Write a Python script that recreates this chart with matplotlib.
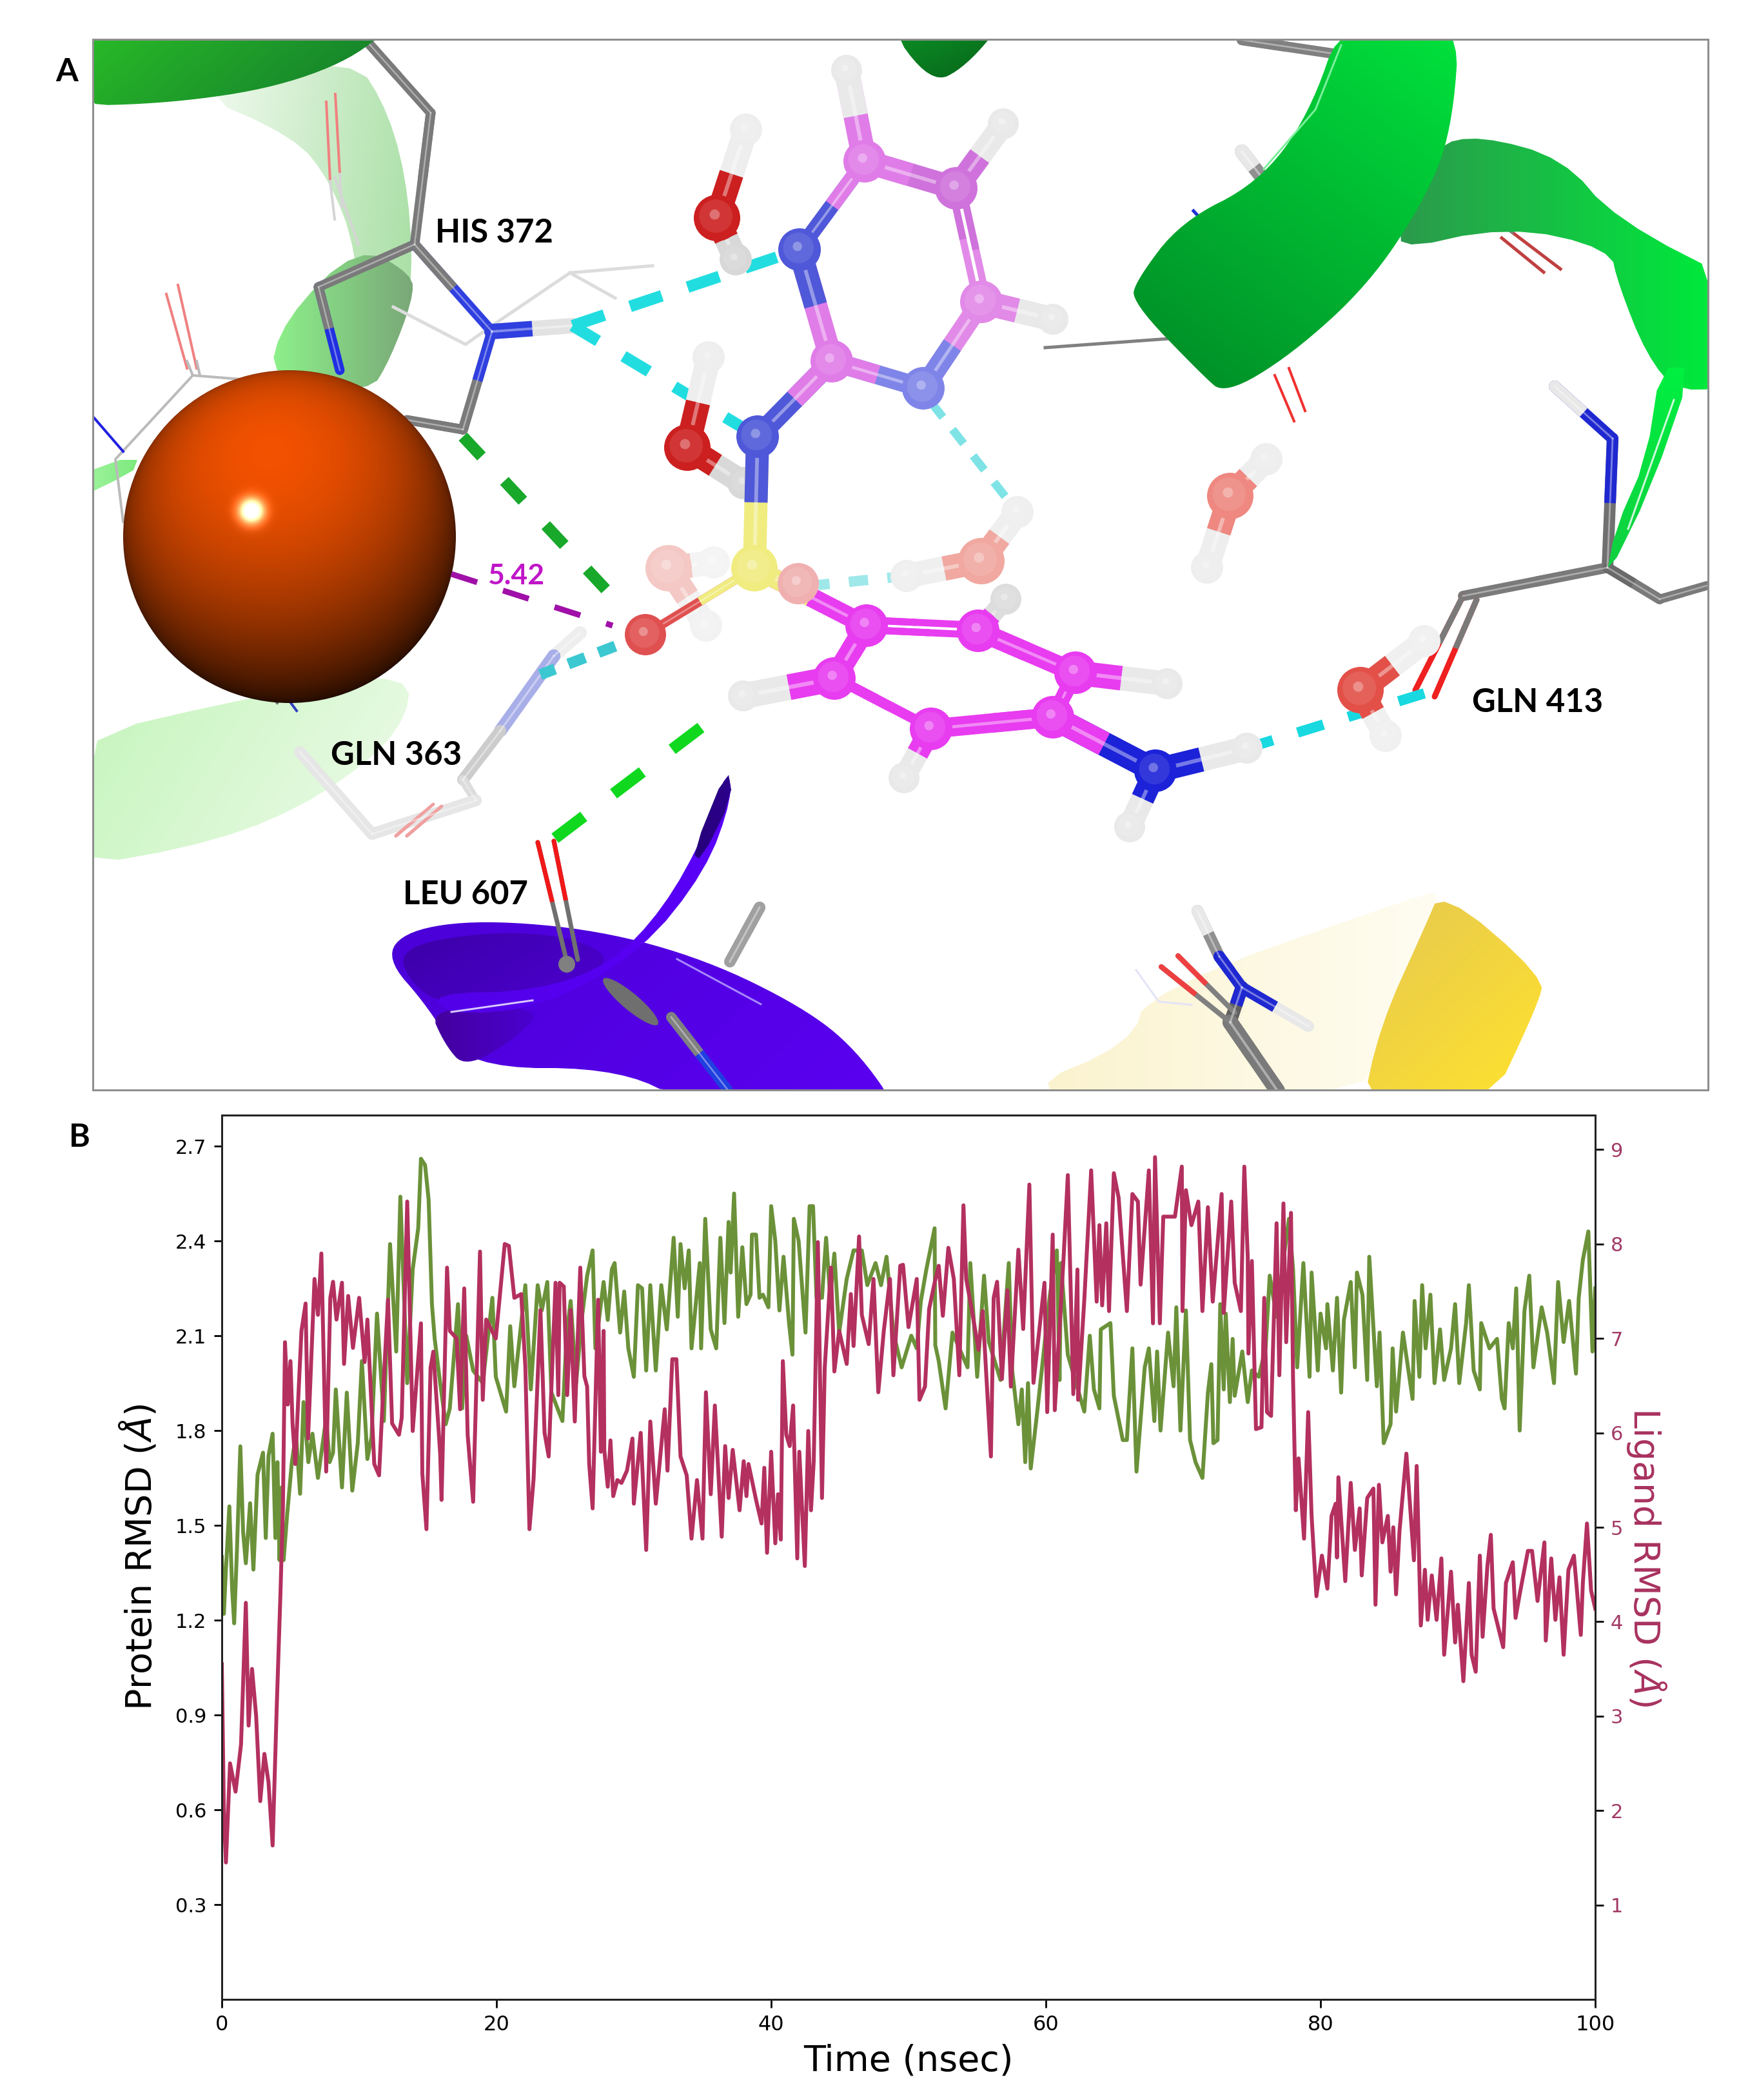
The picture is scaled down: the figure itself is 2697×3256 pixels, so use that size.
import numpy as np
import matplotlib
matplotlib.use("Agg")
from matplotlib import pyplot as plt
from matplotlib.colors import LinearSegmentedColormap
from matplotlib.patches import Circle, Polygon, Ellipse

# ---- panel B data, (time ns, rmsd)
protein_0_20 = [(0,1.40),(0.15,1.22),(0.3,1.36),(0.55,1.56),(0.75,1.30),(0.9,1.19),(1.1,1.42),(1.35,1.75),(1.55,1.48),(1.75,1.38),
    (2.06,1.57),(2.3,1.36),(2.6,1.66),(3,1.73),(3.2,1.46),(3.4,1.72),(3.7,1.79),(3.9,1.46),(4.05,1.70),(4.2,1.39),(4.35,1.62),(4.5,1.39),
    (4.75,1.53),(5.1,1.70),(5.4,1.79),(5.7,1.60),(5.95,1.89),(6.3,1.70),(6.6,1.79),(7,1.65),(7.6,1.84),(7.85,1.70),(8.1,1.73),(8.3,1.93),
    (8.75,1.62),(9.1,1.92),(9.5,1.61),(9.9,1.76),(10.2,2.02),(10.6,1.71),(10.9,1.78),(11.3,2.17),(11.8,1.83),(12.25,2.39),(12.7,2.05),(13,2.54),
    (13.5,1.95),(13.9,2.31),(14.3,2.44),(14.5,2.66),(14.8,2.64),(15.06,2.53),(15.3,2.20),(15.5,2.09),(15.9,1.95),(16.3,1.82),(16.6,1.87),
    (17.2,2.20),(17.5,1.87),(17.8,2.10),(18.3,1.99),(19,1.95),(19.7,2.22),(19.95,1.97)]
protein_20_40 = [(20.7,1.86),(21,2.13),(21.3,1.94),(22.1,2.26),(22.5,1.93),(23,2.26),(23.3,2.18),(23.7,2.27),(24,1.92),(24.8,1.83),(25.1,2.1),(25.4,2.21),
    (25.8,1.95),(26.2,2.15),(26.6,2.29),(27,2.37),(27.2,2.06),(27.8,2.27),(28.1,2.15),(28.4,2.31),(28.6,2.33),(29,2.11),(29.3,2.24),(29.6,2.06),
    (30,1.97),(30.3,2.26),(30.6,2.25),(30.9,1.99),(31.2,2.26),(31.6,1.99),(32,2.26),(32.4,2.12),(32.9,2.41),(33.2,2.16),(33.4,2.39),(33.7,2.25),
    (34,2.37),(34.2,2.06),(34.8,2.33),(34.9,2.06),(35.2,2.47),(35.6,2.12),(36,2.06),(36.3,2.41),(36.6,2.14),(36.9,2.46),(37.05,2.3),(37.3,2.55),
    (37.6,2.16),(37.9,2.38),(38.2,2.2),(38.5,2.23),(38.6,2.42),(38.9,2.42),(39.15,2.22),(39.4,2.23),(39.8,2.19),(40,2.51),(40.3,2.4),(40.6,2.18),
    (40.9,2.35),(41.3,2.14),(41.55,2.04),(41.65,2.47),(42,2.40),(42.5,2.11),(42.8,2.51)]
protein_40_70 = [(43.05,2.51),(43.3,2.22),(43.7,2.22),(44,2.41),(44.3,2.22),(44.6,2.36),(44.95,2.11),(45.5,2.28),(46,2.37),(46.6,2.37),(47,2.26),(47.6,2.33),(48,2.26),
    (48.4,2.35),(48.9,2.11),(49.5,2.00),(50.2,2.10),(50.6,2.06),(50.9,2.21),(51.3,2.31),(51.9,2.44),(51.95,2.07),(52.2,2.02),(52.7,1.87),(53.2,2.11),
    (53.7,2.06),(54.3,2.00),(54.5,2.33),(55,1.97),(55.5,2.29),(55.85,2.08),(56.7,1.96),(57.3,2.33),(57.55,1.99),(58,1.82),(58.25,1.93),(58.5,1.70),
    (58.7,1.95),(58.9,1.68),(59.4,1.87),(60.3,2.23),(60.8,2.37),(61,1.96),(61.1,2.33),(61.6,2.04),(62.8,1.86),(63.2,2.10),(63.5,1.93),(63.9,1.87),
    (64,2.12),(64.35,2.13),(64.7,2.14),(64.95,1.91),(65.6,1.77),(65.9,1.77),(66.3,2.06),(66.6,1.67),(67.2,2.0),(67.5,2.06),(67.9,1.83),(68.1,2.05),
    (68.35,1.80),(68.9,2.11),(69.3,1.94),(69.5,2.19),(69.8,1.80),(70.2,2.18)]
protein_70_100 = [(70.5,1.77),(70.9,1.70),(71.4,1.65),(71.8,1.92),(72.05,2.01),(72.2,1.76),(72.5,1.77),(72.7,2.20),(72.95,1.93),(73.1,2.17),(73.4,1.89),(73.6,2.09),
    (73.75,1.91),(74.3,2.05),(74.7,1.89),(75,1.99),(75.5,1.97),(76,2.06),(76.3,2.29),(76.8,2.16),(77.3,2.34),(77.7,2.47),(78,2.31),(78.3,2.0),(78.75,2.33),
    (79.2,1.97),(79.35,2.30),(79.8,1.99),(80,2.17),(80.4,2.06),(80.5,2.20),(80.9,1.99),(81.2,2.22),(81.5,1.92),(81.7,2.15),(82.2,2.27),(82.5,2.0),
    (82.65,2.30),(83.05,2.23),(83.4,1.96),(83.55,2.35),(84.1,1.94),(84.3,2.11),(84.6,1.76),(85.1,1.82),(85.25,2.06),(85.5,1.86),(86,2.11),(86.7,1.90),
    (86.85,2.21),(87.2,1.97),(87.4,2.26),(87.65,2.06),(88,2.23),(88.3,1.95),(88.7,2.12),(89,1.96),(89.5,2.06),(89.8,2.20),(90.1,1.95),(90.6,2.14),
    (90.8,2.26),(91.15,1.99),(91.6,1.93),(91.7,2.14),(92.3,2.06),(92.85,2.09),(93.2,1.90),(93.4,1.87),(93.7,2.14),(94,2.06),(94.25,2.25),(94.5,1.80),
    (94.85,2.18),(95.2,2.29),(95.5,2.0),(96.1,2.19),(96.5,2.11),(97,1.95),(97.3,2.27),(97.7,2.08),(98.1,2.21),(98.6,1.98),(98.8,2.22),(99.1,2.34),
    (99.5,2.43),(99.8,2.05),(100,2.25)]

ligand_0_20 = [(0,3.55),(0.15,2.0),(0.3,1.45),(0.6,2.5),(1,2.2),(1.4,2.7),(1.75,4.2),(1.95,2.9),(2.2,3.5),(2.5,3.0),(2.8,2.1),(3.1,2.6),(3.4,2.3),(3.7,1.63),
    (4,3.1),(4.27,4.3),(4.45,5.2),(4.6,6.96),(4.8,6.3),(5,6.76),(5.15,6.1),(5.35,5.67),(5.6,6.47),(5.8,7.08),(6.1,7.37),(6.28,5.94),(6.75,7.63),(7,7.25),(7.25,7.9),
    (7.6,5.59),(7.9,7.43),(8.1,7.6),(8.35,7.2),(8.75,7.59),(8.9,6.73),(9.2,7.45),(9.55,6.9),(10,7.43),(10.4,6.75),(10.6,7.2),(11.1,5.67),(11.45,5.55),(11.7,6.3),
    (12.1,7.41),(12.4,6.1),(12.9,5.98),(13.1,6.16),(13.5,8.45),(13.9,6.02),(14.5,7.16),(14.6,5.57),(14.9,4.98),(15.2,6.69),(15.4,6.86),(15.9,5.78),(16,5.29),
    (16.4,7.75),(16.6,7.08),(17.1,7.0),(17.35,6.25),(17.65,7.53),(17.9,5.98),(18.3,5.27),(18.8,7.92),(19,6.35),(19.25,7.2),(19.95,7.0)]
ligand_20_40 = [(20.6,8.0),(20.9,7.98),(21.3,7.43),(21.8,7.47),(22.1,6.7),(22.4,4.98),(22.7,5.51),(23.2,7.3),(23.5,6.0),(23.8,5.75),(24.3,7.59),(24.5,6.4),(24.6,7.59),(24.9,7.55),
    (25.15,6.4),(25.4,7.3),(25.7,6.12),(26.1,7.75),(26.4,6.6),(26.6,6.49),(26.75,5.67),(27,5.2),(27.4,7.41),(27.6,5.8),(27.8,7.08),(27.85,5.82),(28.1,5.43),
    (28.3,5.92),(28.5,5.33),(28.8,5.5),(29.1,5.47),(29.5,5.6),(29.9,5.94),(30,5.25),(30.5,6.0),(30.9,4.76),(31.2,6.12),(31.6,5.25),(32.25,6.25),(32.45,5.6),
    (32.8,6.78),(33.1,6.78),(33.4,5.75),(33.85,5.55),(34.2,4.88),(34.6,5.5),(35,4.88),(35.25,6.43),(35.6,5.35),(35.9,6.29),(36.4,4.9),(36.65,5.86),(36.9,5.31),
    (37.2,5.82),(37.7,5.18),(38,5.7),(38.2,5.33),(38.35,5.67),(38.9,5.29),(39.3,5.04),(39.5,5.63),(39.7,4.73),(40,5.8),(40.3,4.83),(40.5,5.35),(40.7,4.87)]
ligand_40_70 = [(40.85,6.76),(41.1,5.98),(41.35,5.86),(41.6,6.29),(41.9,4.67),(42.05,5.8),(42.45,4.59),(42.7,6.02),(42.9,5.18),(43.1,5.7),(43.4,8.02),(43.7,5.31),(43.9,6.69),
    (44.1,7.16),(44.35,7.75),(44.6,6.65),(44.95,7.08),(45.2,6.92),(45.5,6.73),(45.8,7.47),(46,6.92),(46.4,8.08),(46.6,7.25),(47.1,6.94),(47.45,7.63),(47.8,6.43),
    (48.2,7.08),(48.65,7.63),(48.9,6.61),(49.4,7.77),(49.6,7.78),(50,7.12),(50.6,7.63),(50.8,6.35),(51.2,6.49),(51.5,7.31),(51.9,7.59),(52.2,7.77),(52.5,7.24),
    (52.9,7.96),(53.3,7.63),(53.7,6.61),(54,8.41),(54.2,7.63),(54.6,7.31),(55.1,6.88),(55.4,7.29),(56,5.75),(56.2,7.43),(56.45,7.6),(56.8,6.57),(57.2,7.51),
    (57.45,6.49),(58,7.94),(58.35,7.1),(58.8,8.63),(59.1,6.53),(59.9,7.59),(60.1,6.22),(60.5,8.1),(60.65,6.24),(61.3,7.88),(61.6,8.73),(62,6.41),(62.3,7.73),
    (62.35,6.35),(62.8,7.41),(63.3,8.78),(63.7,7.39),(63.9,8.2),(64.1,7.35),(64.4,8.22),(64.6,7.29),(64.95,8.75),(65.3,8.49),(65.9,7.29),(66.3,8.53),(66.7,8.45),
    (66.9,7.57),(67.5,8.78),(67.8,7.16),(67.95,8.92),(68.3,7.16),(68.55,8.29),(69.4,8.29),(69.9,8.82),(69.95,7.29),(70.2,8.57),(70.6,8.2)]
ligand_70_100 = [(71.1,8.45),(71.4,7.29),(71.8,8.39),(72.15,7.39),(72.8,8.53),(72.95,7.27),(73.5,8.45),(73.75,7.59),(74.2,7.29),(74.45,8.82),(74.7,7.86),(74.75,6.84),(75,7.82),
    (75.3,6.04),(75.7,6.06),(75.9,7.43),(76.1,6.22),(76.4,6.18),(76.8,8.22),(77,6.61),(77.3,8.43),(77.5,6.96),(77.85,8.33),(78,6.57),(78.2,5.18),(78.4,5.73),
    (78.8,4.88),(79.1,6.22),(79.35,5.12),(79.7,4.27),(80.1,4.7),(80.5,4.35),(80.8,5.12),(81.1,5.25),(81.2,4.68),(81.3,5.53),(81.8,4.43),(82.2,5.47),(82.5,4.76),
    (82.85,5.2),(83,4.49),(83.4,5.31),(83.85,5.41),(84,4.18),(84.25,5.45),(84.5,4.84),(84.9,5.12),(85.1,4.53),(85.3,5.0),(85.5,4.29),(85.75,4.96),(86,5.37),
    (86.25,5.78),(86.8,4.65),(87,5.65),(87.3,3.96),(87.6,4.55),(87.8,4.02),(88.1,4.49),(88.45,4.02),(88.8,4.67),(89,3.65),(89.5,4.53),(89.8,3.78),(90,4.18),
    (90.4,3.37),(90.8,4.41),(91,3.65),(91.3,3.47),(91.6,4.7),(91.8,3.84),(92.15,4.59),(92.4,4.92),(92.6,4.14),(93.3,3.73),(93.5,4.41),(94,4.63),(94.2,4.04),
    (94.5,4.29),(95.1,4.75),(95.4,4.75),(95.8,4.22),(96.3,4.84),(96.4,3.8),(96.8,4.67),(97.1,4.02),(97.4,4.47),(97.7,3.65),(98.05,4.55),(98.45,4.7),(98.95,3.86),
    (99.1,4.41),(99.4,5.04),(99.7,4.33),(100,4.14)]

protein_ticks = [0.3, 0.6, 0.9, 1.2, 1.5, 1.8, 2.1, 2.4, 2.7]
ligand_ticks = [1, 2, 3, 4, 5, 6, 7, 8, 9]
time_ticks = [0, 20, 40, 60, 80, 100]

# ---- panel A drawing, coordinates are pixels of the scene
ribbon_top_left = [(90,20),(620,20),(560,85),(432,135),(266,160),(90,165)]
ribbon_pale_helix = [(290,140),(548,85),(605,178),(635,304),(640,459),(605,557),(573,610),(552,384),(512,281),(457,212)]
ribbon_mid_helix = [(415,590),(440,495),(556,380),(640,425),(640,465),(605,557),(573,610)]
ribbon_pale_low = [(90,1150),(415,1075),(640,1040),(625,1133),(500,1235),(340,1305),(90,1350)]
strip_left = [(100,736),(216,705),(204,737),(100,770)]
purple_main = [(597,1485),(631,1442),(747,1426),(929,1442),(1095,1488),(1244,1561),(1327,1626),(1400,1730),(1090,1730),(971,1656),(722,1656),(664,1561)]
purple_inner = [(615,1470),(747,1445),(880,1450),(960,1490),(846,1545),(697,1560),(640,1530)]
purple_fold = [(664,1561),(846,1561),(800,1610),(722,1656),(690,1620)]
purple_curl = [(1128,1190),(1136,1236),(1095,1350),(995,1475),(846,1561),(697,1575),(668,1540),(830,1537),(946,1496),(1029,1409),(1095,1290)]
purple_tip = [(1128,1190),(1136,1236),(1087,1334),(1074,1323)]
green_helix = [(2085,20),(2265,20),(2252,203),(2209,311),(2123,441),(2003,550),(1900,612),(1865,582),(1755,468),(1762,435),(1831,344),(1951,284),(2029,181)]
green_band = [(2225,225),(2295,210),(2424,245),(2505,340),(2720,450),(2720,590),(2604,612),(2553,550),(2510,441),(2497,385),(2338,350),(2150,392),(2209,311)]
green_tip = [(2575,570),(2625,570),(2561,756),(2490,900),(2505,821),(2553,712)]
green_small = [(1370,30),(1560,30),(1496,105),(1444,130)]
yellow_pale = [(1580,1690),(1754,1618),(1780,1537),(2209,1385),(2235,1385),(2209,1439),(2123,1730),(1780,1730)]
yellow_band = [(2235,1378),(2395,1515),(2385,1558),(2304,1730),(2110,1730),(2140,1591),(2209,1439)]

# thin wire residues: (points, colour, width)
wires = [
    ([(519,275),(556,379)],"#d5d5d5",4), ([(506,158),(512,281)],"#f08080",4), ([(520,146),(527,270)],"#f08080",4),
    ([(512,281),(519,340)],"#d5d5d5",4), ([(527,270),(530,320)],"#d5d5d5",4),
    ([(1012,412),(884,423),(763,505)],"#dcdcdc",5), ([(884,423),(954,462)],"#dcdcdc",5), ([(610,476),(722,534),(763,505)],"#dcdcdc",5),
    ([(258,456),(290,571)],"#f08080",4), ([(276,442),(305,571)],"#f08080",4), ([(299,582),(179,712),(191,809)],"#bbbbbb",4),
    ([(299,582),(374,588)],"#bbbbbb",4), ([(290,560),(299,582)],"#bbbbbb",4), ([(305,560),(310,582)],"#bbbbbb",4),
    ([(146,648),(191,700)],"#2020e0",4), ([(1621,539),(1814,525)],"#808080",5), ([(1851,327),(1884,363)],"#1f2fd0",5),
    ([(1977,582),(2007,653)],"#f03030",4), ([(1999,571),(2024,637)],"#f03030",4),
    ([(2394,422),(2329,369)],"#c04040",5), ([(2420,417),(2345,360)],"#c04040",5), ([(2243,333),(2329,349),(2345,360)],"#808080",5),
    ([(1762,1504),(1797,1553),(1848,1558)],"#e4e4f8",3), ([(415,1075),(430,1090)],"#707070",4), ([(440,1075),(460,1102)],"#3040c0",4),
]
# thick sticks: (p, q, colour p side, colour q side, width)
sticks = [
    ((568,63),(668,175),"#7a7a7a","#7a7a7a",15), ((668,175),(643,379),"#7a7a7a","#7a7a7a",15), ((643,379),(494,445),"#7a7a7a","#7a7a7a",15),
    ((494,445),(527,574),"#7a7a7a","#2030e0",15), ((643,379),(763,514),"#7a7a7a","#2f3fe0",16), ((763,514),(888,505),"#2f3fe0","#e2e2e2",24),
    ((763,514),(718,666),"#2f3fe0","#7a7a7a",16), ((718,666),(631,651),"#7a7a7a","#7a7a7a",15),
    ((1926,62),(2067,83),"#808080","#808080",16), ((1926,235),(1964,284),"#e8e8e8","#909090",22),
    ((2411,599),(2501,680),"#e8e8e8","#1f28d0",18), ((2501,680),(2493,880),"#1f28d0","#707070",18),
    ((2493,880),(2269,924),"#7a7a7a","#7a7a7a",16), ((2493,880),(2574,929),"#6a6a6a","#7a7a7a",16), ((2574,929),(2647,908),"#7a7a7a","#7a7a7a",14),
    ((2269,924),(2195,1070),"#7a7a7a","#ee2020",9), ((2290,930),(2225,1080),"#7a7a7a","#ee2020",9),
    ((900,981),(859,1017),"#eeeeee","#eeeeee",20), ((859,1017),(776,1133),"#a8aee8","#a8aee8",20), ((776,1133),(718,1209),"#cccccc","#cccccc",18),
    ((718,1209),(738,1241),"#dddddd","#dddddd",14), ((738,1241),(577,1293),"#e6e6e6","#e6e6e6",18), ((577,1293),(465,1166),"#e6e6e6","#e6e6e6",18),
    ((614,1296),(672,1247),"#f0a0a0","#f0a0a0",5), ((631,1296),(685,1250),"#f0a0a0","#f0a0a0",5),
    ((1857,1412),(1891,1483),"#e8e8e8","#909090",18), ((1891,1483),(1926,1531),"#1f28d0","#1f28d0",18),
    ((1926,1531),(2029,1591),"#1f28d0","#e8e8e8",18), ((1926,1531),(1908,1585),"#1f28d0","#606060",20), ((1908,1585),(1981,1691),"#7a7a7a","#7a7a7a",24),
    ((1801,1499),(1908,1585),"#ee4040","#808080",8), ((1827,1482),(1915,1570),"#ee4040","#808080",8),
]
# sticks that sit in front of the purple ribbon
front_sticks = [
    ((834,1306),(879,1491),"#f01818","#707070",7), ((859,1304),(896,1488),"#f01818","#707070",7),
    ((1041,1577),(1128,1689),"#808080","#1f3fe0",16),
]

pink = "#e07ce8"
lilac = "#cf72dc"
magenta = "#e83cf0"
slate = "#4f58d8"
white = "#e9e9e9"
# ligand atoms
atoms_ligand = {
    "N1": (1240,387,slate), "C2": (1290,560,pink), "N3": (1432,602,"#7f85e8"), "C4": (1522,468,"#e28ae8"), "C5": (1483,292,lilac), "C6": (1341,250,pink),
    "H6": (1313,109,white), "H5": (1556,192,white), "H4": (1633,495,white), "N7": (1175,677,slate), "S": (1170,881,"#f0ec80"),
    "O1": (1001,984,"#e05050"), "O2": (1238,905,"#f0b0b0"), "CA": (1344,970,magenta), "CB": (1294,1052,magenta), "CC": (1444,1130,magenta),
    "CD": (1633,1112,magenta), "CE": (1668,1043,magenta), "CF": (1517,978,magenta), "HB": (1153,1079,white), "HC": (1402,1206,white),
    "HE": (1810,1060,white), "HF": (1560,929,"#dddddd"), "NA": (1792,1195,"#1c22d8"), "HN1": (1934,1160,white), "HN2": (1752,1282,white),
}
bonds_ligand = [("H6","C6",38),("C6","N1",24),("N1","C2",36),("C2","N3",30),("N3","C4",32),("C6","C5",36),("C5","H5",36),("C4","H4",38),("C2","N7",32),
    ("N7","S",36),("S","O1",14),("S","O2",14),("S","CA",30),("CA","CB",34),("CB","HB",40),("CF","CE",30),("CE","CD",24),
    ("CD","CC",30),("CC","HC",34),("CE","HE",38),("CF","HF",30),("CD","NA",38),("NA","HN1",38),("NA","HN2",36)]
double_bonds = [("C5","C4",11),("CB","CC",11),("CA","CF",11)]
# waters: oxygen then two hydrogens, faded ones have light colours
waters = [
    [(1112,338,"#cc1f1f"),(1157,201,"#eeeeee"),(1141,402,"#d8d8d8")],
    [(1066,694,"#cc1f1f"),(1099,554,"#eeeeee"),(1153,749,"#d8d8d8")],
    [(1037,881,"#f4c8c4"),(1107,872,"#f4f4f4"),(1095,970,"#f2f2f2")],
    [(1522,870,"#f0a8a0"),(1578,794,"#efefef"),(1406,893,"#efefef")],
    [(1908,769,"#ee8880"),(1964,712,"#eeeeee"),(1872,880,"#eeeeee")],
    [(2110,1070,"#e25048"),(2209,994,"#f0f0f0"),(2149,1141,"#f0f0f0")],
]
# dashed interactions: (start, end, colour, width px, dash px, gap px)
dashes = [
    ((888,505),(1240,387),"#22dde0",18,52,42), ((888,505),(1175,677),"#22dde0",18,46,46),
    ((1445,625),(1578,794),"#7fe3e6",13,28,24), ((1406,893),(1269,907),"#9fe8ea",16,30,30),
    ((1001,984),(838,1046),"#3cc8d0",17,28,22), ((1934,1160),(2209,1075),"#18d8e0",16,42,40),
    ((718,677),(962,938),"#18a82a",18,42,52), ((1087,1128),(855,1304),"#0fd81f",18,56,58),
    ((700,890),(950,970),"#a010a8",9,42,42),
]
scene_labels = [("HIS 372",766,362), ("GLN 363",615,1172), ("GLN 413",2385,1090), ("LEU 607",722,1388)]
sphere_center = (449,832)
sphere_radius = 258
sphere_spot = (390,792)

W, H = 2697, 3256
fig = plt.figure(figsize=(W/100, H/100), dpi=100, facecolor="white")
A_BOX = (144, 61, 2649, 1690)
B_BOX = (344, 1729, 2474, 3100)


def add_axes(box):
    l, t, r, b = box
    return fig.add_axes([l/W, 1-b/H, (r-l)/W, (b-t)/H])


def px(n):
    return n*0.72


ax = add_axes(A_BOX)
ax.set_xticks([])
ax.set_yticks([])
for s in ax.spines.values():
    s.set_color("#8e8e8e")
    s.set_linewidth(px(3))
    s.set_zorder(50)


def chaikin(pts, n=3):
    # round off polygon corners
    p = np.array(pts, dtype=float)
    for _ in range(n):
        q = np.roll(p, -1, axis=0)
        p = np.column_stack([0.75*p+0.25*q, 0.25*p+0.75*q]).reshape(-1, 2)
    return p


def grad_poly(pts, c1, c2, angle=0, z=1, rounds=3):
    pts = chaikin(pts, rounds)
    pts[:, 0] = np.clip(pts[:, 0], A_BOX[0], A_BOX[2])
    pts[:, 1] = np.clip(pts[:, 1], A_BOX[1], A_BOX[3])
    x0, y0 = pts.min(axis=0)
    x1, y1 = pts.max(axis=0)
    xx, yy = np.meshgrid(np.linspace(0, 1, 60), np.linspace(0, 1, 60))
    a = np.radians(angle)
    g = xx*np.cos(a)+yy*np.sin(a)
    g = (g-g.min())/(g.max()-g.min())
    cmap = LinearSegmentedColormap.from_list("g", [c1, c2])
    im = ax.imshow(g, extent=(x0, x1, y1, y0), cmap=cmap, origin="upper", zorder=z, aspect="auto", interpolation="bilinear")
    patch = Polygon(pts, closed=True, transform=ax.transData, fc="none", ec="none")
    ax.add_patch(patch)
    im.set_clip_path(patch)


def stick(p, q, c1, c2, w, z=5):
    m = ((p[0]+q[0])/2, (p[1]+q[1])/2)
    ax.plot([p[0], q[0]], [p[1], q[1]], color=c2, lw=px(w), solid_capstyle="round", zorder=z)
    ax.plot([p[0], m[0]], [p[1], m[1]], color=c1, lw=px(w), solid_capstyle="butt", zorder=z)
    ax.add_patch(Circle(p, w/2, fc=c1, ec="none", zorder=z))
    if w >= 12:
        ax.plot([p[0], q[0]], [p[1], q[1]], color="white", lw=px(w*0.16), alpha=0.4, zorder=z+0.1)


def atom(x, y, r, c, z=12):
    ax.add_patch(Circle((x, y), r, fc=c, ec="none", zorder=z))
    ax.add_patch(Circle((x-r*0.05, y-r*0.08), r*0.72, fc="white", alpha=0.10, ec="none", zorder=z+0.1))
    ax.add_patch(Circle((x-r*0.1, y-r*0.15), r*0.22, fc="white", alpha=0.3, ec="none", zorder=z+0.2))


grad_poly(ribbon_pale_low, "#c6f5bd", "#eefbea", 20, z=1, rounds=2)
grad_poly(ribbon_pale_helix, "#eef9ec", "#a8dfa4", 10, z=1, rounds=2)
grad_poly(ribbon_mid_helix, "#8df08a", "#7aa878", 0, z=1.2, rounds=2)
grad_poly(strip_left, "#9cf29a", "#7cea7c", 0, z=2, rounds=1)
grad_poly(ribbon_top_left, "#28b828", "#137a2c", 15, z=3)
grad_poly(green_small, "#0c8a24", "#06661a", 45, z=3)
grad_poly(yellow_pale, "#fbf3cf", "#fffdf2", 0, z=1, rounds=2)
grad_poly(yellow_band, "#e6c850", "#ffe22e", 50, z=2, rounds=2)

for pts, col, w in wires:
    xs, ys = zip(*pts)
    ax.plot(xs, ys, color=col, lw=px(w), zorder=2.5)
for p, q, c1, c2, w in sticks:
    stick(p, q, c1, c2, w, z=2.7)

grad_poly(green_band, "#2c9a4c", "#00e83c", 0, z=3, rounds=2)
grad_poly(green_helix, "#008a26", "#00e03c", -55, z=3.2)
grad_poly(green_tip, "#00f040", "#10d040", 90, z=3.2, rounds=1)
ax.plot([2596, 2525], [620, 820], color="white", lw=px(3), alpha=0.8, zorder=3.4)
ax.plot([2080, 2040, 1960], [70, 170, 262], color="#7cf09c", lw=px(3), zorder=3.4)

grad_poly(purple_main, "#4b00d8", "#5a00f0", 20, z=3)
grad_poly(purple_inner, "#3c00a8", "#4c00d0", 30, z=3.1)
grad_poly(purple_fold, "#45009e", "#4a00d0", 0, z=3.1)
ax.add_patch(Ellipse((978, 1553), 110, 26, angle=40, fc="#6f6f6f", ec="none", zorder=3.3))
for p, q, c1, c2, w in front_sticks:
    stick(p, q, c1, c2, w, z=3.4)
stick((1178,1407), (1132,1491), "#a0a0a0", "#a0a0a0", 18, z=2.8)
grad_poly(purple_curl, "#5200e8", "#5a00f8", 0, z=3.6, rounds=2)
grad_poly(purple_tip, "#26007a", "#2c008c", 0, z=3.7, rounds=1)
ax.plot([700, 826], [1569, 1551], color="#d8c8ff", lw=px(3), zorder=3.8)
ax.plot([1050, 1180], [1487, 1557], color="#a888ff", lw=px(3), zorder=3.8)
ax.add_patch(Circle((879, 1495), 13, fc="#808080", ec="none", zorder=3.9))

# iron sphere, shaded by hand
cx, cy = sphere_center
r = sphere_radius
gx, gy = np.meshgrid(np.linspace(-1, 1, 500), np.linspace(-1, 1, 500))
nz = np.sqrt(np.clip(1-gx**2-gy**2, 0, 1))
light = np.array([-0.12, -0.5, 0.86])
light = light/np.linalg.norm(light)
hemi = 0.5+0.5*(gx*light[0]+gy*light[1]+nz*light[2])
shade = 0.05+0.95*hemi**1.8
base = np.array([0.95, 0.32, 0.0])
img = np.dstack([base[i]*shade for i in range(3)])
sx = (sphere_spot[0]-cx)/r
sy = (sphere_spot[1]-cy)/r
spot = np.exp(-((gx-sx)**2+(gy-sy)**2)/(2*0.05**2))
img = np.clip(img+spot[..., None]*1.4, 0, 1)
sphere_im = ax.imshow(img, extent=(cx-r, cx+r, cy+r, cy-r), origin="upper", zorder=6, aspect="auto")
sphere_clip = Circle((cx, cy), r, transform=ax.transData, fc="none", ec="none")
ax.add_patch(sphere_clip)
sphere_im.set_clip_path(sphere_clip)

# interaction dashes
for p, q, col, w, on, off in dashes:
    ax.plot([p[0], q[0]], [p[1], q[1]], color=col, lw=px(w), linestyle=(0, (on/w, off/w)), dash_capstyle="butt", zorder=8)

# waters
for ox, h1, h2 in waters:
    for hh in (h1, h2):
        stick(ox[:2], hh[:2], ox[2], hh[2], 38, z=9)
    atom(*ox[:2], 36, ox[2], z=10)
    atom(*h1[:2], 25, h1[2], z=10)
    atom(*h2[:2], 25, h2[2], z=10)

# ligand
for a, b, w in bonds_ligand:
    pa, pb = atoms_ligand[a], atoms_ligand[b]
    stick(pa[:2], pb[:2], pa[2], pb[2], w, z=11)
for a, b, w in double_bonds:
    pa, pb = atoms_ligand[a], atoms_ligand[b]
    stick((pa[0]+11, pa[1]+7), (pb[0]+11, pb[1]+7), pa[2], pb[2], w, z=11)
    stick((pa[0]-9, pa[1]-9), (pb[0]-9, pb[1]-9), pa[2], pb[2], w, z=11)
for name, (x, y, c) in atoms_ligand.items():
    if name.startswith("H"):
        atom(x, y, 24, c)
    elif name.startswith("O"):
        atom(x, y, 32, c)
    elif name == "S":
        atom(x, y, 36, c)
    else:
        atom(x, y, 33, c)

for txt, x, y in scene_labels:
    ax.text(x, y, txt, fontsize=36.5, fontweight="bold", family="Lato", ha="center", va="center", color="black", zorder=30)
ax.text(800, 893, "5.42", fontsize=32, fontweight="bold", family="Lato", ha="center", va="center", color="#c015c8", zorder=30)
ax.set_xlim(A_BOX[0], A_BOX[2])
ax.set_ylim(A_BOX[3], A_BOX[1])

# ---- panel B
protein = np.array(protein_0_20+protein_20_40+protein_40_70+protein_70_100)
ligand = np.array(ligand_0_20+ligand_20_40+ligand_40_70+ligand_70_100)

ax1 = add_axes(B_BOX)
ax1.plot(protein[:, 0], protein[:, 1], color="#6b9139", lw=px(6))
ax1.set_xlim(0, 100)
ax1.set_ylim(0, 2.798)
ax1.set_yticks(protein_ticks)
ax1.set_yticklabels(["%.1f" % v for v in protein_ticks])
ax1.set_xticks(time_ticks)
ax1.tick_params(axis="both", labelsize=22, length=9, width=2, pad=8)
ax1.tick_params(axis="x", labelsize=23)
ax1.set_xlabel("Time (nsec)", fontsize=40, labelpad=10)
ax1.set_ylabel(r"Protein RMSD ($\AA$)", fontsize=40, labelpad=18)
ax2 = ax1.twinx()
ax2.plot(ligand[:, 0], ligand[:, 1], color="#b3305f", lw=px(6))
ax2.set_ylim(0, 9.365)
ax2.set_yticks(ligand_ticks)
ax2.tick_params(axis="y", labelsize=22, length=9, width=2, pad=8, labelcolor="#a23a66")
ax2.set_ylabel(r"Ligand RMSD ($\AA$)", fontsize=40, color="#a8325f", rotation=270, labelpad=50)
for a in (ax1, ax2):
    for s in a.spines.values():
        s.set_linewidth(px(3))
        s.set_color("#222222")

fig.text(104/W, 1-112/H, "A", fontsize=36, fontweight="bold", family="Lato", ha="center", va="center")
fig.text(123/W, 1-1764/H, "B", fontsize=36, fontweight="bold", family="Lato", ha="center", va="center")

fig.savefig("out.png", dpi=100, facecolor="white")
